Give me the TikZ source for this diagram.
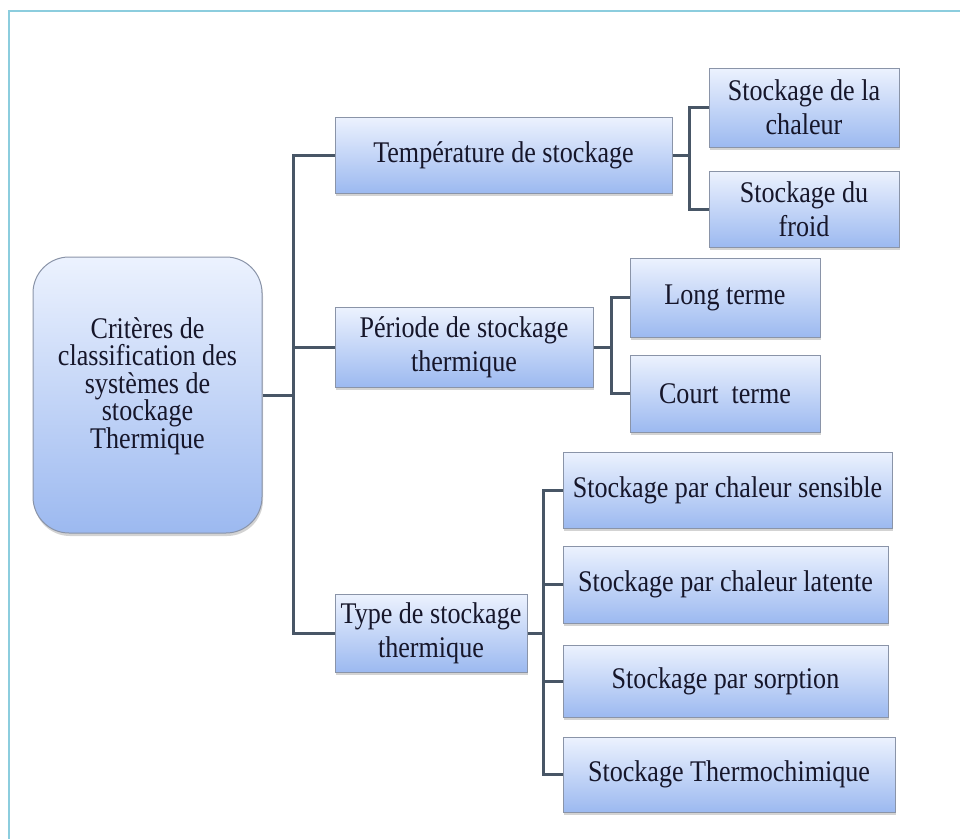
\documentclass[tikz,border=0pt]{standalone}
\usepackage{fontspec}
\setmainfont[FakeStretch=0.87]{Liberation Serif}
\usetikzlibrary{shadows}

\definecolor{cadre}{RGB}{140,205,222}
\definecolor{trait}{RGB}{72,86,102}
\definecolor{hautbleu}{RGB}{236,242,254}
\definecolor{basbleu}{RGB}{156,185,240}
\definecolor{bord}{RGB}{138,148,168}
\definecolor{encre}{RGB}{22,22,42}

\begin{document}
\begin{tikzpicture}[x=1pt, y=-1pt,
  boite/.style={draw=bord, line width=1pt, top color=hautbleu, bottom color=basbleu,
    drop shadow={shadow xshift=1pt, shadow yshift=-3pt, opacity=0.35},
    text=encre, font=\fontsize{30}{34}\selectfont, align=center, inner sep=0pt},
  lien/.style={trait, line width=3pt}]

\useasboundingbox (0,0) rectangle (960,838);

% Cadre
\draw[cadre, line width=2pt] (9,860) -- (9,11) -- (980,11);

% Racine
\node[boite, rounded corners=36pt, minimum width=229pt, minimum height=276pt,
  font=\fontsize{30}{27.5}\selectfont] (racine) at (147.5,395)
  {Critères de\\classification des\\systèmes de\\stockage\\Thermique\rule[-24pt]{0pt}{0pt}};

% Criteres
\node[boite, minimum width=337pt, minimum height=76pt] (temp) at (503.5,155)
  {Température de stockage};
\node[boite, minimum width=258pt, minimum height=80pt] (periode) at (464,347)
  {Période de stockage\\thermique};
\node[boite, minimum width=192pt, minimum height=78pt] (type) at (431,633)
  {Type de stockage\\thermique};

% Temperature
\node[boite, minimum width=190pt, minimum height=79pt] (chaleur) at (804,107.5)
  {Stockage de la\\chaleur};
\node[boite, minimum width=190pt, minimum height=76pt] (froid) at (804,209)
  {Stockage du\\froid};

% Periode
\node[boite, minimum width=190pt, minimum height=79pt] (long) at (725,297.5)
  {Long terme\rule[-6pt]{0pt}{0pt}};
\node[boite, minimum width=190pt, minimum height=77pt] (court) at (725,393.5)
  {Court~~terme};

% Type
\node[boite, minimum width=329pt, minimum height=76pt] (sensible) at (727.5,490)
  {Stockage par chaleur sensible\rule[-6pt]{0pt}{0pt}};
\node[boite, minimum width=325pt, minimum height=77pt] (latente) at (725.5,584.5)
  {Stockage par chaleur latente};
\node[boite, minimum width=325pt, minimum height=72pt] (sorption) at (725.5,681)
  {Stockage par sorption};
\node[boite, minimum width=332pt, minimum height=75pt] (thermo) at (729,774.5)
  {Stockage Thermochimique};

% Tronc
\coordinate (tronc) at (293,395);
\draw[lien] (racine.east) -- (tronc);
\draw[lien] (temp.west) -| (tronc) |- (type.west);
\draw[lien] (periode.west) -- (periode.west -| tronc);

% Accolades
\coordinate (btemp) at (689,155);
\draw[lien] (temp.east) -- (btemp);
\draw[lien] (chaleur.west) -| (btemp) |- (froid.west);

\coordinate (bper) at (611,347);
\draw[lien] (periode.east) -- (bper);
\draw[lien] (long.west) -| (bper) |- (court.west);

\coordinate (btype) at (543,633);
\draw[lien] (type.east) -- (btype);
\draw[lien] (sensible.west) -| (btype) |- (thermo.west);
\foreach \n in {latente,sorption}
  \draw[lien] (\n.west) -- (\n.west -| btype);

\end{tikzpicture}
\end{document}
